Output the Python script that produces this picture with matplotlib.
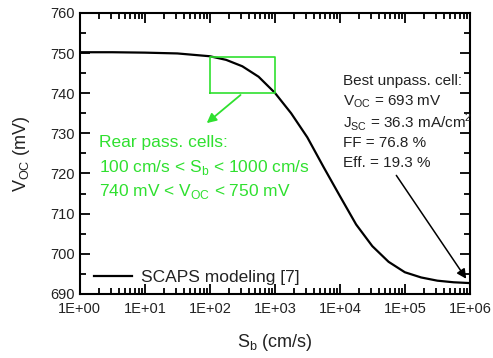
import numpy as np
import matplotlib
matplotlib.use("Agg")
import matplotlib.pyplot as plt
from matplotlib.ticker import LogLocator, FixedLocator, MultipleLocator, FuncFormatter

plt.rcParams['font.family'] = ['Liberation Sans', 'DejaVu Sans']

# data
sb = [1, 3.16, 10, 31.6, 100, 178, 316, 562, 1000, 1780, 3160, 5620,
      1e4, 1.78e4, 3.16e4, 5.62e4, 1e5, 1.78e5, 3.16e5, 5.62e5, 1e6]
voc = [750.2, 750.2, 750.1, 749.9, 749.2, 748.3, 746.7, 744.1, 740.1, 735.0,
       729.0, 721.6, 714.4, 707.3, 701.9, 698.0, 695.4, 694.1, 693.3, 692.9, 692.7]
xticks = [1e0, 1e1, 1e2, 1e3, 1e4, 1e5, 1e6]
xlabels = ['1E+00', '1E+01', '1E+02', '1E+03', '1E+04', '1E+05', '1E+06']
box_sb = [100, 1000]
box_voc = [740, 749]
best_cell = ['Best unpass. cell:', r'V$_{\mathregular{OC}}$ = 693 mV',
             r'J$_{\mathregular{SC}}$ = 36.3 mA/cm$^{\mathregular{2}}$',
             'FF = 76.8 %', 'Eff. = 19.3 %']
green_txt = ['Rear pass. cells:',
             r'100 cm/s < S$_{\mathregular{b}}$ < 1000 cm/s',
             r'740 mV < V$_{\mathregular{OC}}$ < 750 mV']

green = '#2fe02f'
txtc = '#222222'

fig = plt.figure(figsize=(4.93, 3.58), dpi=100)
ax = fig.add_axes([0.162, 0.179, 0.791, 0.785])

ax.plot(sb, voc, color='black', lw=1.6, label='SCAPS modeling [7]')
ax.set_xscale('log')
ax.set_xlim(1, 1e6)
ax.set_ylim(690, 760)

# tick styling
ax.xaxis.set_major_locator(FixedLocator(xticks))
ax.xaxis.set_major_formatter(FuncFormatter(lambda v, p: xlabels[int(round(np.log10(v)))] if 0 <= round(np.log10(v)) <= 6 else ''))
ax.xaxis.set_minor_locator(LogLocator(base=10, subs=np.arange(2, 10), numticks=20))
ax.yaxis.set_major_locator(MultipleLocator(10))
ax.yaxis.set_minor_locator(MultipleLocator(5))
ax.tick_params(which='both', direction='in', top=True, right=True, width=1.3, colors='black',
               labelcolor=txtc, labelsize=10.5)
ax.tick_params(which='major', length=7)
ax.tick_params(which='minor', length=4)
ax.tick_params(axis='x', which='major', pad=6)
for s in ax.spines.values():
    s.set_linewidth(1.5)

ax.set_xlabel(r'S$_{\mathregular{b}}$ (cm/s)', fontsize=13, color=txtc, labelpad=11)
ax.set_ylabel(r'V$_{\mathregular{OC}}$ (mV)', fontsize=13, color=txtc, labelpad=13)

ax.legend(loc='lower left', frameon=False, fontsize=12.5, handlelength=2.2, handletextpad=0.5,
          borderaxespad=0.2, bbox_to_anchor=(0.01, -0.005), labelcolor=txtc)

# green box + arrow
ax.plot([box_sb[0], box_sb[1], box_sb[1], box_sb[0], box_sb[0]],
        [box_voc[0], box_voc[0], box_voc[1], box_voc[1], box_voc[0]], color=green, lw=1.2)
ax.annotate('', xy=(83, 732.1), xytext=(320, 740),
            arrowprops=dict(arrowstyle='-|>', color=green, lw=1.3, mutation_scale=14))
for i, t in enumerate(green_txt):
    ax.text(2.0, 727.6 - i * 6.1, t, color=green, fontsize=12.5, va='center', ha='left')

# best cell text + arrow
for i, t in enumerate(best_cell):
    ax.text(1.1e4, 743.0 - i * 5.1, t, color=txtc, fontsize=11, va='center', ha='left')
ax.annotate('', xy=(9.3e5, 693.2), xytext=(7e4, 720.1),
            arrowprops=dict(arrowstyle='-|>', color='black', lw=1.1, mutation_scale=14))

fig.savefig('out.png', dpi=100)
